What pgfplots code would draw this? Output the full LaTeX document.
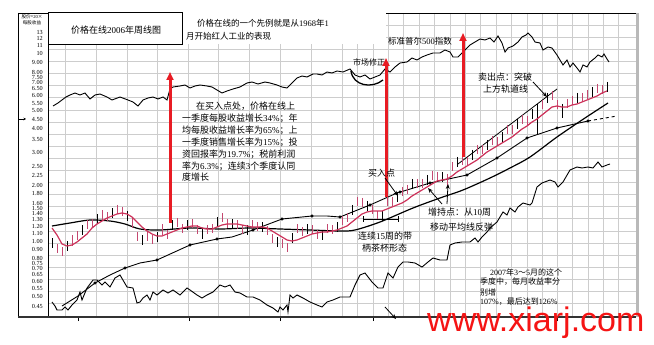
\documentclass[border=0pt]{standalone}
\usepackage{pgfplots}
\pgfplotsset{compat=1.18}
\usepackage{pgfplotstable}
\usepackage{fontspec}
\setmainfont{Liberation Serif}
\newfontfamily\cjk{Noto Sans CJK SC}
\newfontfamily\sansf{Liberation Sans}
\usetikzlibrary{arrows.meta}
\definecolor{barpink}{RGB}{196,72,112}
\definecolor{mared}{RGB}{205,50,90}
\definecolor{arrred}{RGB}{232,28,36}
\definecolor{wmred}{RGB}{245,20,20}
\definecolor{gridc}{RGB}{205,205,205}
\newcommand{\n}[1]{{\rmfamily #1}}

% pixel-space readings: x = horizontal position, y = vertical position (log price scale)
\pgfplotstableread{
x hi lo
52 238 248
67 241 251
82 225 235
97 214 224
112 208 218
127 211 221
142 235 245
157 232 242
172 220 230
187 220 230
202 229 239
217 217 227
232 219 229
247 225 235
262 222 232
277 237 247
292 233 243
307 224 234
322 230 240
337 222 232
352 205 215
367 201 211
382 211 221
397 192 202
412 179 189
427 175 185
442 172 182
457 157 167
472 150 160
487 140 150
502 132 142
517 119 129
532 109 119
537 104 134
547 93 103
562 104 118
577 93 103
592 87 97
607 82 92
}\barsK

\pgfplotstableread{
x hi lo
57 244 253
62 247 256
72 235 246
77 231 240
87 220 229
92 219 228
102 210 221
107 212 221
117 205 214
122 207 216
132 217 228
137 232 241
147 232 241
152 235 244
162 224 235
167 230 239
177 218 227
182 224 233
192 219 228
197 225 234
207 225 234
212 224 233
222 213 222
227 219 228
237 220 229
242 225 234
252 220 229
257 222 231
267 226 235
272 234 243
282 239 248
287 243 252
297 224 233
302 227 236
312 225 234
317 230 239
327 224 233
332 225 234
342 216 225
347 213 222
357 197 206
362 198 207
372 205 214
377 211 220
387 197 206
392 197 206
402 187 196
407 185 194
417 179 188
422 179 188
432 171 180
437 172 181
447 174 186
452 162 171
462 156 165
467 157 166
477 145 154
482 145 154
492 136 145
497 137 146
507 125 134
512 125 134
522 115 124
527 116 125
542 100 109
552 91 100
557 100 109
567 99 108
572 96 105
582 93 102
587 90 99
597 84 93
602 85 94
}\barsP

\pgfplotstableread{
x y
53 106
58 103
62 100
66 97
70 95
75 93
80 95
85 93
90 99
95 95
100 94
107 97
112 100
120 97
128 100
133 102
138 106
143 100
148 98
153 97
158 99
163 97
167 100
170 89
173 87
180 86
185 85
190 88
195 86
200 85
207 86
212 87
217 90
222 93
227 91
233 89
240 87
247 83
252 82
258 84
265 82
270 83
277 85
282 87
287 88
292 83
297 78
302 76
307 77
313 74
317 74
322 75
327 72
332 73
337 71
343 72
350 69
355 75
360 77
365 75
370 79
375 77
380 75
385 69
390 72
395 67
400 63
407 62
412 58
417 60
422 57
427 55
433 53
440 53
445 50
450 52
453 57
458 57
462 53
465 50
470 45
475 42
480 39
485 40
490 38
494 42
498 36
502 43
505 52
508 48
513 46
518 42
522 37
526 35
528 33
532 37
535 42
540 43
543 50
548 47
552 48
557 55
560 60
563 65
567 60
570 67
573 63
577 68
580 72
583 65
587 67
590 62
595 58
598 55
602 57
604 54
607 59
609 62
}\spx

\pgfplotstableread{
x y
52 302
55 306
57 310
62 310
65 307
68 310
72 305
77 300
80 292
82 300
87 288
93 280
97 280
102 285
105 282
110 287
115 278
120 275
127 287
133 288
137 303
140 302
143 298
147 295
150 300
153 292
157 295
163 290
168 293
173 290
180 295
187 288
190 290
197 295
202 298
207 295
213 292
220 285
225 287
230 285
235 292
240 293
247 297
253 297
260 300
267 305
273 308
278 312
280 307
283 310
287 305
288 312
290 295
293 298
297 295
303 298
310 302
317 305
322 307
327 302
333 300
340 297
350 297
355 285
360 275
365 273
372 282
378 288
383 288
388 273
393 278
398 267
403 262
408 262
415 263
422 267
428 262
433 258
440 260
447 260
450 245
455 243
462 242
470 242
475 238
478 242
482 237
487 232
490 228
497 222
503 212
507 215
510 208
515 212
518 207
523 203
530 205
532 203
537 187
542 183
550 180
555 182
558 187
563 182
570 170
577 167
582 168
588 167
593 168
598 162
602 167
607 165
610 164
}\rsl

\pgfplotstableread{
x y
52 228
57 235
62 244
67 246
72 245
77 242
82 238
87 234
92 228
97 224
102 221
107 218
112 216
117 214
122 213
127 214
132 217
137 222
142 227
147 231
152 234
157 236
162 236
167 234
172 232
177 230
182 228
187 227
192 226
197 226
202 228
207 229
212 229
217 227
222 225
227 224
232 224
237 224
242 225
247 226
252 227
257 227
262 227
267 228
272 231
277 234
282 237
287 240
292 241
297 240
302 238
307 236
312 234
317 233
322 232
327 232
332 231
337 230
342 228
347 226
352 222
357 218
362 214
367 212
372 211
377 211
382 211
387 209
392 207
397 205
402 203
407 200
412 196
417 193
422 190
427 187
432 184
437 181
442 180
447 179
452 176
457 172
462 169
467 166
472 163
477 160
482 156
487 152
492 149
497 146
502 143
507 140
512 137
517 133
522 129
527 126
532 122
537 119
542 115
547 111
552 107
557 106
562 107
567 107
572 105
577 104
582 102
587 100
592 98
597 96
602 93
607 91
}\maten

\pgfplotstableread{
x y
52 226
70 223
90 220
110 221
125 224
140 229
160 230
190 228
220 229
250 228
280 229
310 230
340 231
355 230
380 222
413 208
440 198
463 190
490 178
510 168
530 157
557 137
585 118
608 103
}\mafty

\pgfplotstableread{
x y
62 306
78 296
95 283
110 275
125 268
140 263
157 260
168 255
190 245
217 239
232 237
253 230
282 219
312 216
327 216
340 217
350 213
370 205
397 193
430 183
467 175
497 158
527 138
557 128
588 121
}\earn

\pgfplotstableread{
x y
95 283
125 268
157 260
190 245
217 239
253 230
282 219
312 216
340 217
370 205
400 192
430 183
467 175
497 158
527 138
557 128
588 121
}\earndots

\begin{document}
\begin{tikzpicture}[x=1pt,y=1pt]
\useasboundingbox (0,0) rectangle (654,345);
\begin{axis}[
  at={(48pt,28pt)}, anchor=south west,
  width=588pt, height=304pt, scale only axis,
  xmin=48, xmax=636, ymin=13, ymax=317, y dir=reverse,
  axis line style={draw=none}, clip=false,
  tick align=outside,
  xtick={78,189,280,373,465,557}, xticklabels={},
  xtick pos=bottom, ytick pos=left,
  major tick length=4pt,
  xtick style={black, line width=0.8pt},
  ytick={32,38,45,53,62,72,77,82,88,95,103,110,119,128,139,152,166,175,185,193,203,208,213,219,226,233,241,249,258,263,268,274,281,288,296,306},
  yticklabels={13,12,11,10,9.00,8.00,7.50,7.00,6.50,6.00,5.50,5.00,4.50,4.00,3.50,3.00,2.50,2.25,2.00,1.80,1.60,1.50,1.40,1.30,1.20,1.10,1.00,0.90,0.80,0.75,0.70,0.65,0.60,0.55,0.50,0.45},
  ytick style={draw=none},
  yticklabel style={font=\fontsize{6.2}{6.2}\selectfont, anchor=east, inner sep=0pt, xshift=-1pt},
  minor xtick={65,96,127,157,188,218,249,280,311,342,357,373,388,403,419,434,450,465,480,496,511,527,542,557,572,588,603,618},
  minor ytick={25.1,37.2,49.3,61.4,73.5,85.6,97.7,109.8,121.9,134,146.1,158.2,170.3,182.4,194.5,206.6,218.7,230.8,242.9,255,267.1,279.2,291.3,303.4},
  minor tick length=0pt,
  xminorgrids, yminorgrids,
  minor grid style={gridc, line width=0.5pt},
]
% S&P 500
\addplot[black, line width=0.9pt, mark=none] table[x=x,y=y] {\spx};
% relative strength line
\addplot[black, line width=0.9pt, mark=none] table[x=x,y=y] {\rsl};
% earnings line
\addplot[black, line width=0.9pt, mark=none] table[x=x,y=y] {\earn};
\addplot[black, line width=0.9pt, dashed, mark=none] coordinates {(588,121) (617,116)};
\addplot[only marks, black, mark=*, mark size=1.3pt] table[x=x,y=y] {\earndots};
% long moving average
\addplot[black, line width=1.2pt, mark=none, smooth] table[x=x,y=y] {\mafty};
% upper channel line
\addplot[black, line width=0.8pt, mark=none] coordinates {(458,164) (557,89)};
% weekly bars (high-low)
\addplot[barpink, line width=1pt, mark=none, quiver={u=0, v=\thisrow{lo}-\thisrow{hi}}]
  table[x=x, y=hi] {\barsP};
\addplot[black, line width=0.8pt, mark=none, quiver={u=0, v=\thisrow{lo}-\thisrow{hi}}]
  table[x=x, y=hi] {\barsK};
% 10-week moving average
\addplot[mared, line width=1.2pt, mark=none] table[x=x,y=y] {\maten};
\end{axis}

% frame
\draw[line width=0.8pt] (18,332) -- (636,332);
\draw[line width=0.8pt] (18,332) -- (18,28);
\draw[line width=1pt] (48,332) -- (48,28);
\draw[line width=1.6pt, black!80] (18,28) -- (636,28);
\draw[line width=3pt, gray!55] (637.5,332) -- (637.5,28);

% top-left label
\node[font=\cjk\fontsize{4.6}{5}\selectfont, inner sep=0] at (32,328.5) {股价=\n{20}×};
\node[font=\cjk\fontsize{4.6}{5}\selectfont, inner sep=0] at (32,322.5) {每股收益};
\draw[-{Stealth[length=2.5pt,width=2.5pt]}, line width=0.6pt] (19,226) -- (26,226);

% top white area and title box
\fill[white] (182,331.5) rectangle (386,301);
\draw[line width=1pt, fill=white] (48,332) rectangle (182,300);
\node[font=\cjk\fontsize{9}{10}\selectfont, inner sep=0] at (116,315) {价格在线\n{2006}年周线图};
\node[font=\cjk\fontsize{8.5}{10}\selectfont, anchor=west, inner sep=0] at (197,322) {价格在线的一个先例就是从\n{1968}年\n{1}};
\node[font=\cjk\fontsize{8.5}{10}\selectfont, anchor=west, inner sep=0] at (186,309) {月开始红人工业的表现};
\node[font=\cjk\fontsize{8.5}{10}\selectfont, anchor=west, inner sep=0] at (388,304) {标准普尔\n{500}指数};
\node[font=\cjk\fontsize{8}{10}\selectfont, anchor=west, inner sep=0] at (353,283) {市场修正};
\draw[line width=1.3pt] (351,274) .. controls (353,259) and (372,256) .. (383,265);

% red arrows
\draw[arrred, line width=3pt, -{Triangle[length=8pt,width=7pt]}] (170,122) -- (170,273);
\draw[arrred, line width=3pt, -{Triangle[length=8pt,width=7pt]}] (386,148) -- (386,287);
\draw[arrred, line width=3pt, -{Triangle[length=8pt,width=7pt]}] (463,188) -- (463,312);

% paragraph
\begin{scope}[every node/.style={font=\cjk\fontsize{9}{10}\selectfont, anchor=west, inner sep=0}]
\node at (196,239) {在买入点处，价格在线上};
\node at (182,227) {一季度每股收益增长\n{34\%}；年};
\node at (182,215) {均每股收益增长率为\n{65\%}；上};
\node at (182,203) {一季度销售增长率为\n{15\%}；投};
\node at (182,191) {资回报率为\n{19.7\%}；税前利润};
\node at (182,179) {率为\n{6.3\%}；连续\n{3}个季度认同};
\node at (182,168) {度增长};
\node at (368,172) {买入点};
\node at (428,133) {增持点：从\n{10}周};
\node at (430,118) {移动平均线反弹};
\node at (358,109) {连续\n{15}周的带};
\node at (362,97) {柄茶杯形态};
\node at (478,268) {卖出点：突破};
\node at (483,256) {上方轨道线};
\end{scope}
\begin{scope}[every node/.style={font=\cjk\fontsize{8}{9}\selectfont, anchor=west, inner sep=0}]
\node at (490,73) {\n{2007}年\n{3}～\n{5}月的这个};
\node at (480,63) {季度中，每月收益率分};
\node at (480,53) {别增};
\node at (480,43) {\n{107\%}，最后达到\n{126\%}};
\end{scope}

% annotation arrows and bracket
\draw[line width=0.7pt] (363,126) -- (398,126);
\draw[line width=0.7pt] (363,123) -- (363,129);
\draw[line width=0.7pt] (398,123) -- (398,129);
\draw[line width=0.8pt, -{Stealth[length=5pt,width=4pt]}] (385,167) -- (398,149);
\draw[line width=0.8pt, -{Stealth[length=5pt,width=4pt]}] (442,141) -- (428,157);
\draw[line width=0.8pt, -{Stealth[length=5pt,width=4pt]}] (447,141) -- (448,161);
\draw[line width=0.8pt, -{Stealth[length=5pt,width=4pt]}] (533,263) -- (547,248);
\draw[line width=0.8pt, -{Stealth[length=5pt,width=4pt]}] (385,38) -- (396,26);

% watermark
\node[anchor=base west, inner sep=0, text=wmred, font=\sansf\fontsize{34}{34}\selectfont] at (427,13) {www.xiarj.com};
\end{tikzpicture}
\end{document}
